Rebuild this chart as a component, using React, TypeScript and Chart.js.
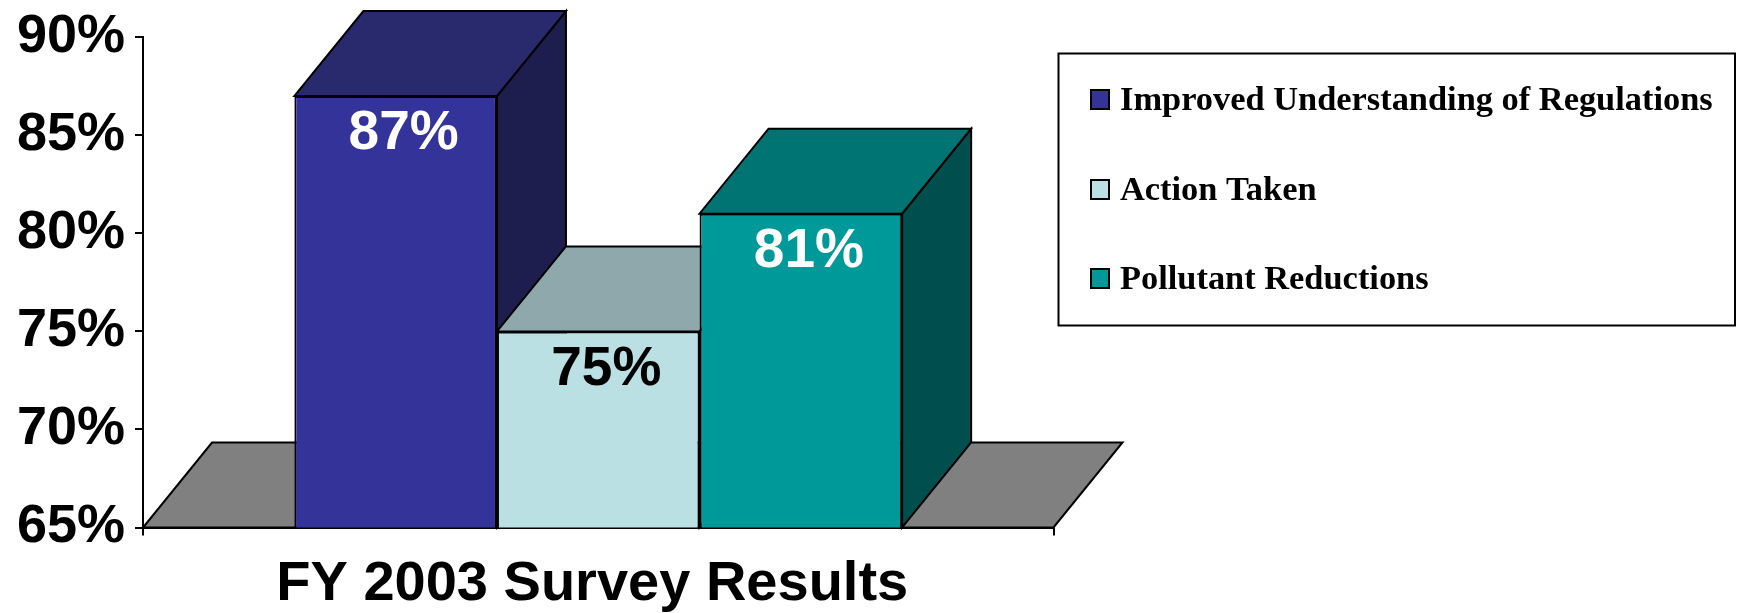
import React, { useEffect, useRef } from "react";
import { Chart, registerables } from "chart.js";

Chart.register(...registerables);

// ---- data ----
const categories = ["FY 2003 Survey Results"];
const seriesNames = [
  "Improved Understanding of Regulations",
  "Action Taken",
  "Pollutant Reductions",
];
const improvedUnderstanding = [87];
const actionTaken = [75];
const pollutantReductions = [81];
const yMin = 65;
const yMax = 90;
const yStep = 5;

// ---- styles ----
const frontColors = ["#333399", "#BAE0E3", "#009999"];
const topColors = ["#29296E", "#8FA8AB", "#007373"];
const sideColors = ["#1E1E4E", "#7E9FA2", "#004F4F"];
const valueLabelColors = ["#FFFFFF", "#000000", "#FFFFFF"];
const SANS = '"Liberation Sans", Arial, sans-serif';
const SERIF = '"Liberation Serif", "Times New Roman", serif';
const DEPTH_X = 69;
const DEPTH_Y = 85;

function poly(ctx: CanvasRenderingContext2D, pts: number[][], fill: string) {
  ctx.beginPath();
  ctx.moveTo(pts[0][0], pts[0][1]);
  for (let i = 1; i < pts.length; i++) ctx.lineTo(pts[i][0], pts[i][1]);
  ctx.closePath();
  ctx.fillStyle = fill;
  ctx.fill();
  ctx.lineWidth = 2;
  ctx.strokeStyle = "#000";
  ctx.lineJoin = "miter";
  ctx.stroke();
}

const bar3dPlugin = {
  id: "bar3d",
  beforeDatasetsDraw(chart: any) {
    const ctx: CanvasRenderingContext2D = chart.ctx;
    const area = chart.chartArea;
    const yScale = chart.scales.y;
    const floorY = yScale.getPixelForValue(yMin);
    ctx.save();
    // floor
    poly(
      ctx,
      [
        [area.left, floorY],
        [area.right, floorY],
        [area.right + DEPTH_X, floorY - DEPTH_Y],
        [area.left + DEPTH_X, floorY - DEPTH_Y],
      ],
      "#808080"
    );
    // sides and tops, left to right
    chart.data.datasets.forEach((_: any, di: number) => {
      const meta = chart.getDatasetMeta(di);
      meta.data.forEach((el: any) => {
        const p = el.getProps(["x", "y", "width"], true);
        const l = p.x - p.width / 2;
        const r = p.x + p.width / 2;
        const t = p.y;
        const b = floorY;
        // side
        poly(
          ctx,
          [
            [r, t],
            [r + DEPTH_X, t - DEPTH_Y],
            [r + DEPTH_X, b - DEPTH_Y],
            [r, b],
          ],
          sideColors[di]
        );
        // top
        poly(
          ctx,
          [
            [l, t],
            [r, t],
            [r + DEPTH_X, t - DEPTH_Y],
            [l + DEPTH_X, t - DEPTH_Y],
          ],
          topColors[di]
        );
      });
    });
    ctx.restore();
  },
  afterDatasetsDraw(chart: any) {
    const ctx: CanvasRenderingContext2D = chart.ctx;
    ctx.save();
    ctx.font = `bold 55px ${SANS}`;
    ctx.textAlign = "center";
    ctx.textBaseline = "middle";
    chart.data.datasets.forEach((ds: any, di: number) => {
      const meta = chart.getDatasetMeta(di);
      meta.data.forEach((el: any, i: number) => {
        const p = el.getProps(["x", "y"], true);
        ctx.fillStyle = valueLabelColors[di];
        ctx.fillText(`${ds.data[i]}%`, p.x + 8, p.y + 38);
      });
    });
    ctx.restore();
  },
  afterDraw(chart: any) {
    const ctx: CanvasRenderingContext2D = chart.ctx;
    ctx.save();
    const bx = 1058.5;
    const by = 53.5;
    const bw = 676.5;
    const bh = 272;
    ctx.fillStyle = "#fff";
    ctx.fillRect(bx, by, bw, bh);
    ctx.lineWidth = 2;
    ctx.strokeStyle = "#000";
    ctx.strokeRect(bx, by, bw, bh);
    const rows = [99, 189, 278];
    ctx.font = `bold 34.4px ${SERIF}`;
    ctx.textAlign = "left";
    ctx.textBaseline = "middle";
    chart.data.datasets.forEach((ds: any, di: number) => {
      const cy = rows[di];
      ctx.fillStyle = frontColors[di];
      ctx.fillRect(1091, cy - 9, 18, 19);
      ctx.lineWidth = 2;
      ctx.strokeStyle = "#000";
      ctx.strokeRect(1091, cy - 9, 18, 19);
      ctx.fillStyle = "#000";
      ctx.fillText(ds.label, 1120, cy + 2);
    });
    ctx.restore();
  },
};

export default function App() {
  const canvasRef = useRef<HTMLCanvasElement | null>(null);

  useEffect(() => {
    const canvas = canvasRef.current;
    if (!canvas) return;
    const seriesData = [improvedUnderstanding, actionTaken, pollutantReductions];
    const chart = new Chart(canvas, {
      type: "bar",
      data: {
        labels: categories,
        datasets: seriesData.map((d, i) => ({
          label: seriesNames[i],
          data: d,
          backgroundColor: frontColors[i],
          borderColor: "#000000",
          borderWidth: 2,
          borderSkipped: false,
          categoryPercentage: 0.6675,
          barPercentage: 1,
        })),
      },
      options: {
        responsive: false,
        maintainAspectRatio: false,
        devicePixelRatio: 1,
        animation: false,
        events: [],
        layout: { padding: { left: 0, right: 683.5, top: 37.2, bottom: 0 } },
        plugins: {
          legend: { display: false },
          tooltip: { enabled: false },
          title: { display: false },
        },
        scales: {
          x: {
            grid: {
              display: true,
              drawOnChartArea: false,
              drawTicks: true,
              tickLength: 8,
              color: "#000",
              lineWidth: 2,
              offset: true,
            },
            border: { display: true, color: "#000", width: 2 },
            ticks: {
              color: "#000",
              font: { family: SANS, size: 56, weight: "bold" },
              padding: 15,
              labelOffset: -6,
              maxRotation: 0,
              autoSkip: false,
            },
            afterFit(scale: any) {
              scale.height = 85.5;
            },
          },
          y: {
            min: yMin,
            max: yMax,
            grid: {
              display: true,
              drawOnChartArea: false,
              drawTicks: true,
              tickLength: 8,
              color: "#000",
              lineWidth: 2,
            },
            border: { display: true, color: "#000", width: 2 },
            ticks: {
              stepSize: yStep,
              color: "#000",
              padding: 10,
              font: { family: SANS, size: 54, weight: "bold", lineHeight: 0.9 },
              callback: (v: any) => `${v}%`,
            },
            afterFit(scale: any) {
              scale.width = 143;
            },
          },
        },
      },
      plugins: [bar3dPlugin],
    });
    return () => chart.destroy();
  }, []);

  return (
    <div style={{ position: "fixed", left: 0, top: 0, width: 1737, height: 613, background: "#fff" }}>
      <canvas ref={canvasRef} width={1737} height={613} style={{ width: 1737, height: 613, display: "block" }} />
    </div>
  );
}
